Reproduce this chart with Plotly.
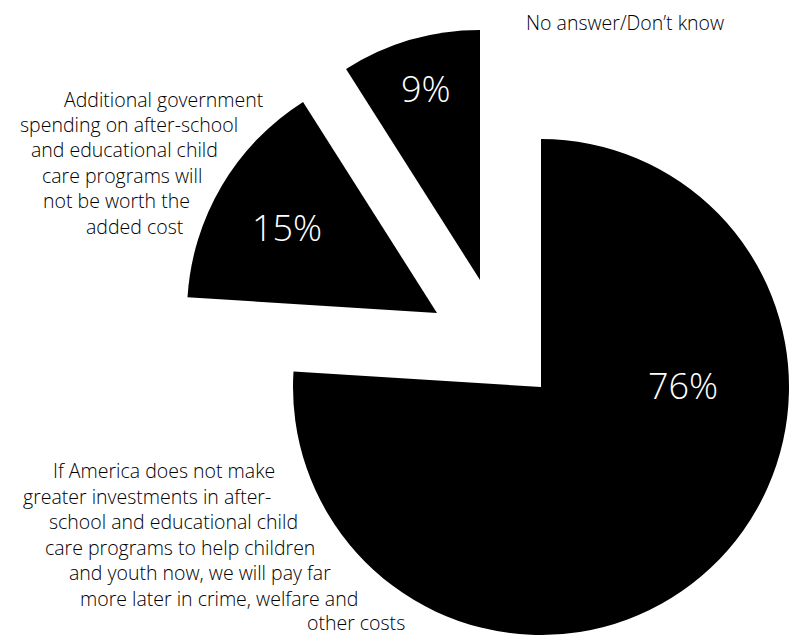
import plotly.graph_objects as go

# Survey answers and their shares (percent)
categories = [
    "If America does not make greater investments in after-school and educational "
    "child care programs to help children and youth now, we will pay far more later "
    "in crime, welfare and other costs",
    "Additional government spending on after-school and educational child care "
    "programs will not be worth the added cost",
    "No answer/Don’t know",
]
values = [76, 15, 9]

# Wrapped text of each answer, line by line
label_lines = [
    ["If America does not make", "greater investments in after-",
     "school and educational child", "care programs to help children",
     "and youth now, we will pay far", "more later in crime, welfare and",
     "other costs"],
    ["Additional government", "spending on after-school", "and educational child",
     "care programs will", "not be worth the", "added cost"],
    ["No answer/Don’t know"],
]

# ---- layout (pixels) ----
W, H = 789, 635
# square box (x0, y0, x1, y1) holding each exploded slice
slice_boxes = [(293, 139, 789, 635), (187, 63, 687, 563), (230, 30, 730, 530)]
# centre of the percentage text inside each slice
pct_pos = [(683, 385), (287, 228), (426, 88)]
# horizontal centre of every wrapped label line, first-line centre y, line step
line_x = [
    [164, 147, 173, 180, 200, 219, 356],
    [164, 129, 124, 122, 117, 135],
    [625],
]
first_y = [471, 99, 23]
LINE_STEP = 25.4

FONT = "Open Sans, Liberation Sans, Arial, sans-serif"
LABEL_SIZE = 19.5


def px_x(x):
    return x / W


def px_y(y):
    return 1 - y / H


fig = go.Figure()

# Each slice is drawn by its own pie trace so it can be pulled out independently;
# the other two sectors of that trace stay transparent.
for i, (x0, y0, x1, y1) in enumerate(slice_boxes):
    colors = ["#000000" if j == i else "rgba(0,0,0,0)" for j in range(len(values))]
    fig.add_trace(go.Pie(
        labels=categories,
        values=values,
        sort=False,
        direction="clockwise",
        rotation=0,
        marker=dict(colors=colors, line=dict(width=0)),
        textinfo="none",
        hoverinfo="label+percent",
        showlegend=False,
        domain=dict(x=[px_x(x0), px_x(x1)], y=[px_y(y1), px_y(y0)]),
    ))

annotations = []
for v, (x, y) in zip(values, pct_pos):
    annotations.append(dict(
        x=px_x(x), y=px_y(y), xref="paper", yref="paper",
        text=f"{v}%", showarrow=False, xanchor="center", yanchor="middle",
        font=dict(family=FONT, size=36, color="#ffffff", weight=300),
    ))

for lines, xs, y0 in zip(label_lines, line_x, first_y):
    for k, (text, x) in enumerate(zip(lines, xs)):
        y = min(y0 + k * LINE_STEP, H - 13)
        annotations.append(dict(
            x=px_x(x), y=px_y(y), xref="paper", yref="paper",
            text=text, showarrow=False, xanchor="center", yanchor="middle",
            font=dict(family=FONT, size=LABEL_SIZE, color="#000000", weight=300),
        ))

fig.update_layout(
    width=W, height=H, autosize=False,
    margin=dict(l=0, r=0, t=0, b=0, pad=0),
    paper_bgcolor="#ffffff", plot_bgcolor="#ffffff",
    annotations=annotations,
)

fig.write_html("out.html")
